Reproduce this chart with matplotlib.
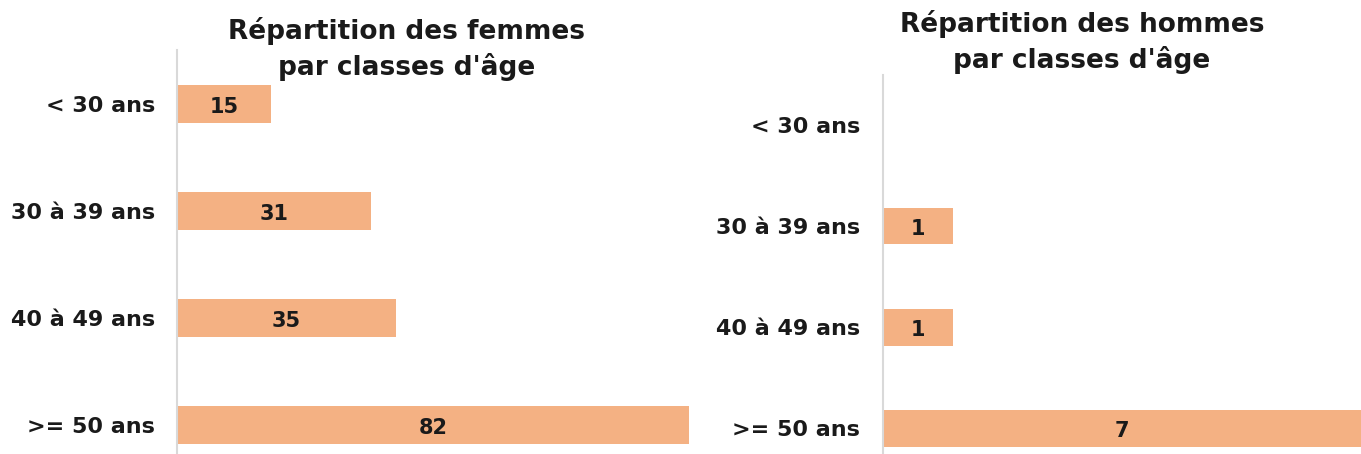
import matplotlib
matplotlib.use("Agg")
import matplotlib.pyplot as plt

categories = ["< 30 ans", "30 à 39 ans", "40 à 49 ans", ">= 50 ans"]
femmes = [15, 31, 35, 82]
hommes = [0, 1, 1, 7]
title_f = "Répartition des femmes\npar classes d'âge"
title_h = "Répartition des hommes\npar classes d'âge"

BAR = "#F4B183"
SPINE = "#D9D9D9"
W, H = 1361, 454
fig = plt.figure(figsize=(W / 100, H / 100), dpi=100)
plt.rcParams['font.family'] = ['DejaVu Sans']

def px_axes(x0, x1, ytop, ybot):
    return fig.add_axes([x0 / W, 1 - ybot / H, (x1 - x0) / W, (ybot - ytop) / H])

def draw(ax, vals, xmax, pad, tick_fs=16, val_fs=15):
    y = list(range(len(categories)))
    ax.barh(y, vals, height=0.36, color=BAR, clip_on=True)
    ax.set_ylim(len(categories) - 0.5, -0.5)
    ax.set_xlim(0, xmax)
    ax.set_yticks(y)
    ax.set_yticklabels(categories, fontsize=tick_fs, fontweight='bold', color='#1a1a1a')
    ax.tick_params(axis='y', length=0, pad=pad)
    ax.set_xticks([])
    for s in ['top', 'right', 'bottom']:
        ax.spines[s].set_visible(False)
    ax.spines['left'].set_color(SPINE)
    ax.spines['left'].set_linewidth(1.5)
    for yi, v in zip(y, vals):
        if v > 0:
            ax.text(min(v, xmax) / 2, yi + 0.03, str(v), ha='center', va='center',
                    fontsize=val_fs, fontweight='bold', color='#1a1a1a')

ax1 = px_axes(177, 689, 50.5, 478.5)
draw(ax1, femmes, 82, pad=15.8)
ax2 = px_axes(883, 1361, 74.5, 479)
draw(ax2, hommes, (1361 - 883) / 70.0, pad=16.5)

fig.text(407 / W, 1 - 49 / H, title_f, ha='center', va='center', fontsize=19,
         fontweight='bold', color='#1a1a1a', linespacing=1.35)
fig.text(1082 / W, 1 - 42 / H, title_h, ha='center', va='center', fontsize=19,
         fontweight='bold', color='#1a1a1a', linespacing=1.35)

fig.savefig("out.png", dpi=100, facecolor='white')
